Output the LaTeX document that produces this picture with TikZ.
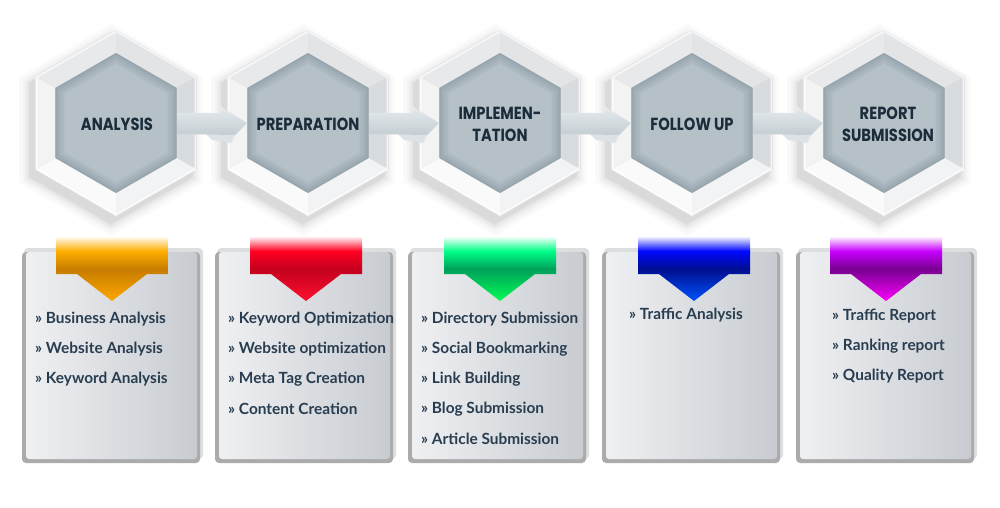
\documentclass[tikz,border=0pt]{standalone}
\usepackage{fontspec}
\newfontfamily\hexfont{Poppins}[FakeStretch=0.84]
\newfontfamily\cardfont{Lato}
\usetikzlibrary{calc}
\definecolor{titlec}{HTML}{1B2C3B}
\definecolor{itemc}{HTML}{283D50}
\definecolor{hexin}{HTML}{B5C0C7}
\definecolor{hexdark}{HTML}{6F818D}
\definecolor{ftr}{HTML}{E2E4E6}
\definecolor{fr}{HTML}{D9DCDF}
\definecolor{fbr}{HTML}{F2F3F4}
\definecolor{fbl}{HTML}{FAFAFA}
\definecolor{fl}{HTML}{F3F3F4}
\definecolor{ftl}{HTML}{E8E9EB}
\definecolor{arrtop}{HTML}{E7ECEE}
\definecolor{arrbot}{HTML}{C3CDD2}
\definecolor{arrlow}{HTML}{DCE2E5}
\definecolor{cardleft}{HTML}{EFF0F2}
\definecolor{cardright}{HTML}{C8CCD1}
\definecolor{cardlight}{HTML}{DDDEE0}
\definecolor{carddark}{HTML}{ABABAB}
\definecolor{orA}{HTML}{FFAE00}\definecolor{orB}{HTML}{C67C00}\definecolor{orC}{HTML}{FFA800}
\definecolor{reA}{HTML}{FF0022}\definecolor{reB}{HTML}{C4001E}\definecolor{reC}{HTML}{FF1030}
\definecolor{grA}{HTML}{00FF88}\definecolor{grB}{HTML}{00A05A}\definecolor{grC}{HTML}{00FF55}
\definecolor{blA}{HTML}{0008FF}\definecolor{blB}{HTML}{000E90}\definecolor{blC}{HTML}{0055FF}
\definecolor{puA}{HTML}{C800FF}\definecolor{puB}{HTML}{780090}\definecolor{puC}{HTML}{FF00FF}
\tikzset{
  title/.style={font=\hexfont\bfseries\fontsize{17.5}{22}\selectfont, text=titlec, align=center, inner sep=0pt},
  item/.style={font=\cardfont\bfseries\fontsize{15.4}{16}\selectfont, text=itemc, anchor=west, inner sep=0pt},
}
\newcommand\hexpath[1]{(270:#1) -- (330:#1) -- (30:#1) -- (90:#1) -- (150:#1) -- (210:#1) -- cycle}
\newcommand\hexagonbox[1]{%
  \begin{scope}[shift={(#1)}]
    \foreach \r/\o in {106/0.02,102/0.025,99/0.03,96/0.035,94/0.04}{
      \fill[black, opacity=\o, shift={(-5,7)}] \hexpath{\r};
    }
    \fill[ftr] (270:93) -- (330:93) -- (330:70) -- (270:70) -- cycle;
    \fill[fr] (330:93) -- (30:93) -- (30:70) -- (330:70) -- cycle;
    \fill[fbr] (30:93) -- (90:93) -- (90:70) -- (30:70) -- cycle;
    \fill[fbl] (90:93) -- (150:93) -- (150:70) -- (90:70) -- cycle;
    \fill[fl] (150:93) -- (210:93) -- (210:70) -- (150:70) -- cycle;
    \fill[ftl] (210:93) -- (270:93) -- (270:70) -- (210:70) -- cycle;
    \draw[white, line width=1.2pt, opacity=0.8] \hexpath{91.5};
    \fill[hexin] \hexpath{70};
    \begin{scope}
      \clip \hexpath{70};
      \foreach \w in {3,7,12,18}{
        \draw[hexdark, opacity=0.12, line width=\w pt] \hexpath{70};
      }
    \end{scope}
  \end{scope}}
\newcommand\hexarrow[2]{%
  \fill[arrlow] ($(#2)+(-102,11)$) -- ($(#2)+(-73,12)$) -- ($(#2)+(-77,20)$) -- ($(#2)+(-96,17)$) -- cycle;
  \shade[top color=arrtop, bottom color=arrbot]
    ($(#1)+(61,-10)$) -- ($(#2)+(-88,-10)$) -- ($(#2)+(-88,-17)$) -- ($(#2)+(-61,0)$)
    -- ($(#2)+(-73,12)$) -- ($(#1)+(61,11)$) -- cycle;}
\newcommand\card[1]{%
  \fill[cardlight, rounded corners=4pt] (#1+2,248) rectangle (#1+181,459);
  \fill[carddark, rounded corners=4pt] (#1,252) rectangle (#1+178,463);
  \shade[left color=cardleft, right color=cardright, rounded corners=3pt] (#1+4,252) rectangle (#1+175,459);}
\newcommand\ribbon[4]{%
  \begin{scope}
    \clip (#1-56,236) -- (#1+56,236) -- (#1+56,274) -- (#1+35,274) -- (#1,301) -- (#1-35,274) -- (#1-56,274) -- cycle;
    \shade[top color=white, bottom color=#2] (#1-60,236) rectangle (#1+60,251);
    \shade[top color=#2, bottom color=#3] (#1-60,251) rectangle (#1+60,269);
    \shade[top color=#3, bottom color=#4] (#1-60,269) rectangle (#1+60,302);
  \end{scope}}
\begin{document}
\begin{tikzpicture}[x=1pt,y=-1pt]
\useasboundingbox (0,0) rectangle (1000,508);
\fill[white] (0,0) rectangle (1000,508);
% hexagon centres
\coordinate (c1) at (116,123);
\coordinate (c2) at (308,123);
\coordinate (c3) at (500,123);
\coordinate (c4) at (692,123);
\coordinate (c5) at (884,123);
\hexagonbox{c1}\hexagonbox{c2}\hexagonbox{c3}\hexagonbox{c4}\hexagonbox{c5}
\hexarrow{c1}{c2}\hexarrow{c2}{c3}\hexarrow{c3}{c4}\hexarrow{c4}{c5}
\node[title] (h1) at (117,124) {ANALYSIS};
\node[title] (h2) at (308,124) {PREPARATION};
\node[title] (h3) at (500,124) {IMPLEMEN-\\TATION};
\node[title] (h4) at (692,124) {FOLLOW UP};
\node[title] (h5) at (888,124) {REPORT\\SUBMISSION};
% cards
\card{22}\card{215}\card{408}\card{602}\card{796}
\ribbon{112}{orA}{orB}{orC}
\ribbon{306}{reA}{reB}{reC}
\ribbon{500}{grA}{grB}{grC}
\ribbon{694}{blA}{blB}{blC}
\ribbon{886}{puA}{puB}{puC}
\node[item] (a1) at (35,319) {» Business Analysis};
\node[item] (a2) at (35,349) {» Website Analysis};
\node[item] (a3) at (35,379) {» Keyword Analysis};
\node[item] (b1) at (228,319) {» Keyword Optimization};
\node[item] (b2) at (228,349) {» Website optimization};
\node[item] (b3) at (228,379) {» Meta Tag Creation};
\node[item] (b4) at (228,409) {» Content Creation};
\node[item] (d1) at (421,319) {» Directory Submission};
\node[item] (d2) at (421,349) {» Social Bookmarking};
\node[item] (d3) at (421,379) {» Link Building};
\node[item] (d4) at (421,409) {» Blog Submission};
\node[item] (d5) at (421,439) {» Article Submission};
\node[item] (e1) at (629,315) {» Traffic Analysis};
\node[item] (f1) at (832,316) {» Traffic Report};
\node[item] (f2) at (832,346) {» Ranking report};
\node[item] (f3) at (832,376) {» Quality Report};
\end{tikzpicture}
\end{document}
